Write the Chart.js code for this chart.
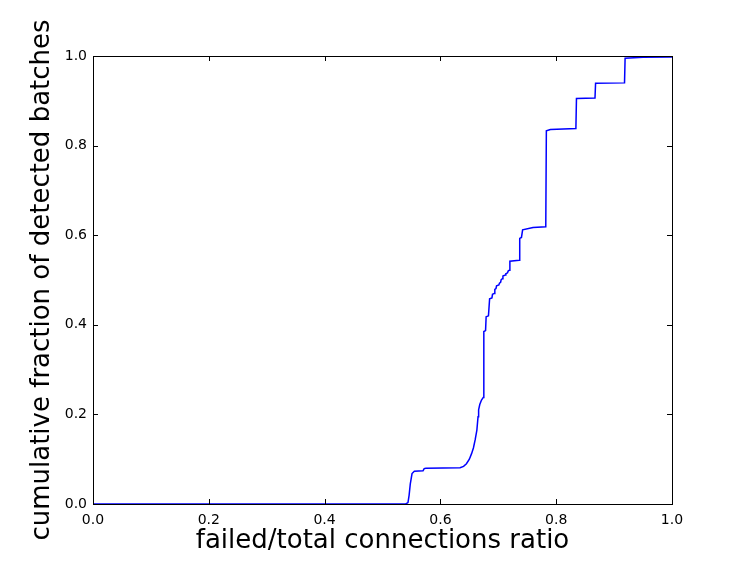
<!DOCTYPE html>
<html lang="en">
<head>
  <meta charset="UTF-8" />
  <title>Detected batches CDF</title>
  <style>
    body, html {
      margin: 0;
      padding: 0;
      background: #fff;
    }
    #wrap {
      width: 747px;
      height: 561px;
    }
  </style>
</head>
<body>
<div id="wrap">
  <canvas id="cdfChart" width="747" height="561"></canvas>
</div>

<script src="https://cdn.jsdelivr.net/npm/chart.js"></script>
<script>
  // failed/total ratio and the cumulative fraction reached there
  const ratios = [0.0, 0.540, 0.544, 0.546, 0.548, 0.551, 0.555, 0.570, 0.572, 0.575,
    0.634, 0.640, 0.645, 0.650, 0.654, 0.657, 0.660, 0.663, 0.665, 0.666,
    0.668, 0.671, 0.674, 0.675, 0.678, 0.679, 0.683, 0.685, 0.689, 0.690,
    0.693, 0.694, 0.696, 0.697, 0.701, 0.702, 0.704, 0.705, 0.707, 0.708,
    0.712, 0.713, 0.716, 0.717, 0.719, 0.720, 0.736, 0.737, 0.740, 0.742,
    0.760, 0.782, 0.783, 0.790, 0.834, 0.835, 0.867, 0.868, 0.918, 0.919,
    0.950, 1.0];
  const fractions = [0.0, 0.0, 0.003, 0.020, 0.045, 0.068, 0.073, 0.074, 0.079, 0.080,
    0.081, 0.084, 0.090, 0.100, 0.113, 0.125, 0.143, 0.165, 0.195, 0.210,
    0.222, 0.232, 0.238, 0.385, 0.387, 0.418, 0.420, 0.458, 0.460, 0.468,
    0.470, 0.479, 0.481, 0.487, 0.489, 0.493, 0.495, 0.501, 0.503, 0.509,
    0.511, 0.514, 0.516, 0.520, 0.522, 0.542, 0.544, 0.593, 0.595, 0.612,
    0.617, 0.619, 0.833, 0.836, 0.838, 0.905, 0.906, 0.939, 0.940, 0.995,
    0.997, 0.998];
  const xTicks = [0.0, 0.2, 0.4, 0.6, 0.8, 1.0];
  const yTicks = [0.0, 0.2, 0.4, 0.6, 0.8, 1.0];

  const points = ratios.map((r, i) => ({ x: r, y: fractions[i] }));
  const fontFamily = "'DejaVu Sans', sans-serif";

  // matplotlib-style frame with inward ticks on every side
  const framePlugin = {
    id: 'frame',
    afterDatasetsDraw(chart) {
      const { ctx, chartArea: a, scales } = chart;
      ctx.save();
      ctx.strokeStyle = '#000';
      ctx.lineWidth = 1;
      const len = 5;
      ctx.beginPath();
      xTicks.forEach(v => {
        const px = Math.round(scales.x.getPixelForValue(v)) + 0.5;
        ctx.moveTo(px, a.bottom); ctx.lineTo(px, a.bottom - len);
        ctx.moveTo(px, a.top); ctx.lineTo(px, a.top + len);
      });
      yTicks.forEach(v => {
        const py = Math.round(scales.y.getPixelForValue(v)) + 0.5;
        ctx.moveTo(a.left, py); ctx.lineTo(a.left + len, py);
        ctx.moveTo(a.right, py); ctx.lineTo(a.right - len, py);
      });
      ctx.stroke();
      ctx.strokeRect(Math.round(a.left) + 0.5, Math.round(a.top) + 0.5,
        Math.round(a.right - a.left), Math.round(a.bottom - a.top));
      ctx.restore();
    }
  };

  new Chart(document.getElementById('cdfChart').getContext('2d'), {
    type: 'line',
    data: {
      datasets: [{
        data: points,
        borderColor: '#0000ff',
        borderWidth: 1.5,
        pointRadius: 0,
        fill: false,
        tension: 0
      }]
    },
    options: {
      responsive: false,
      animation: false,
      devicePixelRatio: 1,
      layout: { padding: { left: 0, top: 56, right: 75, bottom: 0 } },
      plugins: { legend: { display: false }, tooltip: { enabled: false } },
      scales: {
        x: {
          type: 'linear',
          min: 0, max: 1,
          afterBuildTicks: s => { s.ticks = xTicks.map(v => ({ value: v })); },
          afterFit: s => { s.height = 57; },
          grid: { display: false, drawTicks: false },
          border: { display: false },
          ticks: {
            padding: 8,
            color: '#000',
            font: { family: fontFamily, size: 14 },
            callback: v => v.toFixed(1)
          },
          title: {
            display: true,
            text: 'failed/total connections ratio',
            color: '#000',
            font: { family: fontFamily, size: 26 },
            padding: { top: 0, bottom: 4 }
          }
        },
        y: {
          type: 'linear',
          min: 0, max: 1,
          afterBuildTicks: s => { s.ticks = yTicks.map(v => ({ value: v })); },
          afterFit: s => { s.width = 93; },
          grid: { display: false, drawTicks: false },
          border: { display: false },
          ticks: {
            padding: 6,
            color: '#000',
            font: { family: fontFamily, size: 14 },
            callback: v => v.toFixed(1)
          },
          title: {
            display: true,
            text: 'cumulative fraction of detected batches',
            color: '#000',
            font: { family: fontFamily, size: 26 },
            padding: { top: 27, bottom: 0 }
          }
        }
      }
    },
    plugins: [framePlugin]
  });
</script>
</body>
</html>
